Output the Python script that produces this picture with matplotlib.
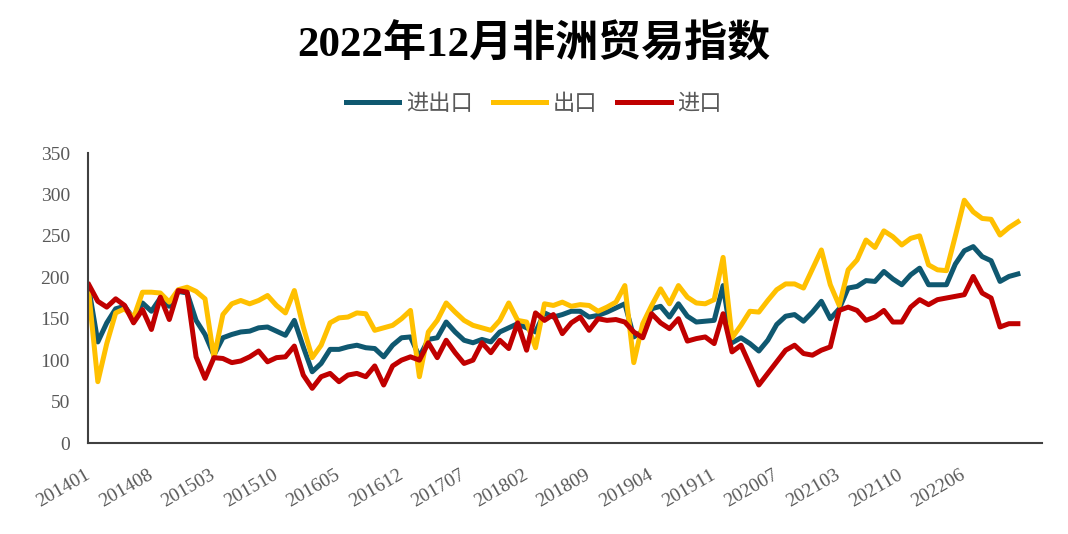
import matplotlib
matplotlib.use("Agg")
import matplotlib.pyplot as plt

# ---- categories (monthly; from 2020 Jan-Feb are combined) ----
months_full = [f"{m:02d}" for m in range(1, 13)]
months_nofeb = [m for m in months_full if m != "02"]
categories = ([f"{y}{m}" for y in range(2014, 2020) for m in months_full] +
              [f"{y}{m}" for y in range(2020, 2023) for m in months_nofeb])

series_names = ["进出口", "出口", "进口"]

total = [186, 122, 145, 162, 165, 150, 169, 159, 175, 165, 183, 181, 148, 131, 106, 127, 131, 134,
         135, 139, 140, 135, 130, 148, 116, 86, 96, 113, 113, 116, 118, 115, 114, 104, 118, 127,
         128, 104, 125, 127, 146, 134, 124, 121, 125, 122, 134, 139, 144, 139, 134, 157, 152, 155,
         159, 159, 152, 154, 158, 163, 168, 128, 135, 162, 165, 152, 168, 153, 146, 147, 148, 190,
         121, 127, 120, 111, 124, 143, 153, 155, 147, 158, 171, 150, 162, 187, 189, 196, 195, 207,
         198, 191, 203, 211, 191, 191, 191, 216, 232, 237, 225, 220, 195, 201, 204]

exports = [180, 74, 120, 157, 162, 151, 182, 182, 181, 170, 185, 188, 183, 174, 103, 155, 168, 172,
           168, 172, 178, 166, 157, 184, 140, 103, 118, 145, 151, 152, 157, 156, 136, 139, 142, 150,
           160, 80, 134, 148, 169, 158, 148, 142, 139, 136, 148, 169, 148, 146, 115, 168, 166, 170,
           165, 167, 166, 159, 164, 170, 190, 97, 144, 166, 186, 168, 190, 176, 169, 168, 173, 224,
           127, 142, 159, 158, 172, 185, 192, 192, 187, 210, 233, 191, 166, 209, 221, 245, 236, 256,
           249, 239, 247, 250, 215, 209, 208, 250, 293, 279, 271, 270, 251, 260, 267]

imports = [191, 171, 164, 174, 166, 145, 161, 137, 176, 149, 184, 182, 104, 78, 103, 102, 97, 99,
           104, 111, 98, 103, 104, 117, 82, 66, 80, 84, 74, 82, 84, 80, 93, 70, 93, 100,
           104, 100, 121, 103, 124, 109, 96, 100, 121, 109, 124, 114, 145, 112, 157, 148, 155, 132,
           145, 152, 136, 150, 148, 149, 146, 134, 127, 156, 145, 138, 150, 123, 126, 128, 120, 156,
           110, 118, 94, 70, 84, 98, 112, 118, 108, 106, 112, 116, 160, 164, 160, 148, 152, 160,
           146, 146, 164, 173, 167, 173, 175, 177, 179, 201, 181, 175, 140, 144, 144]

y_ticks = [0, 50, 100, 150, 200, 250, 300, 350]
colors = ["#0F5870", "#FFC000", "#C00000"]

fig = plt.figure(figsize=(10.68, 5.34), dpi=100)
ax = fig.add_axes([88 / 1068, 1 - 443 / 534, (1042 - 88) / 1068, (443 - 153) / 534])

x = list(range(len(categories)))
for vals, name, c in zip([total, exports, imports], series_names, colors):
    ax.plot(x, vals, color=c, lw=3.6, label=name, solid_joinstyle="round")

ax.set_ylim(0, 350)
ax.set_xlim(-0.1, 106.7)
ax.set_yticks(y_ticks)
ax.set_yticklabels([str(v) for v in y_ticks], family="Liberation Serif", fontsize=14, color="#595959")
tick_idx = list(range(0, len(categories), 7))
ax.set_xticks(tick_idx)
ax.set_xticklabels([categories[i] for i in tick_idx], family="Liberation Serif", fontsize=14,
                   color="#595959", rotation=30, ha="right", va="center", rotation_mode="anchor")
ax.tick_params(axis="x", length=0, pad=22)
ax.tick_params(axis="y", length=0, pad=13)
for s in ["top", "right"]:
    ax.spines[s].set_visible(False)
for s in ["left", "bottom"]:
    ax.spines[s].set_color("#404040")
    ax.spines[s].set_linewidth(1.5)

fig.text(0.5, 1 - 45 / 534, "2022年12月非洲贸易指数", ha="center", va="center",
         fontsize=31, fontweight="bold", family=["Liberation Serif", "Noto Sans CJK SC"], color="#000000")

leg = fig.legend(loc="center", bbox_to_anchor=(0.5, 1 - 103 / 534), ncol=3, frameon=False,
                 prop={"family": ["Noto Sans CJK SC"], "size": 16}, handlelength=2.4,
                 handletextpad=0.3, columnspacing=0.9)
for t in leg.get_texts():
    t.set_color("#595959")

fig.savefig("out.png", dpi=100)
